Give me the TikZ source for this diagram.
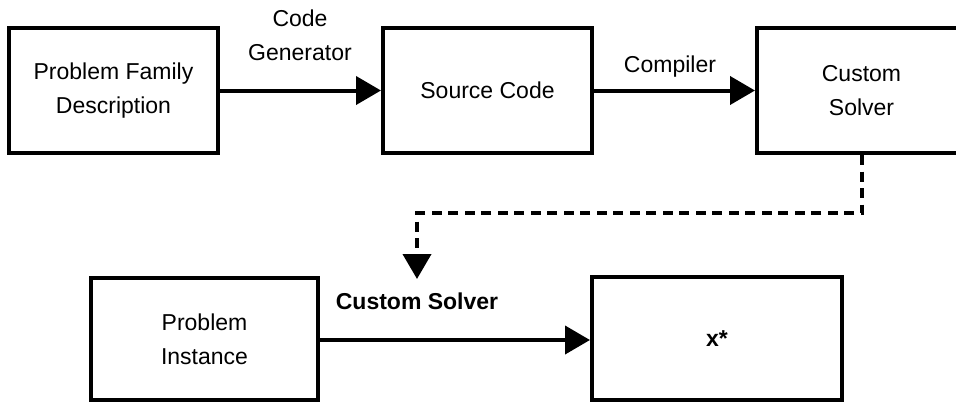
\documentclass[tikz,border=0pt]{standalone}
\usepackage{fontspec}
\setmainfont{Liberation Sans}
\usetikzlibrary{arrows.meta}
\tikzset{
  box/.style={draw, line width=4pt, inner sep=0pt, align=center, font=\fontsize{23}{34}\selectfont},
  lbl/.style={inner sep=0pt, align=center, font=\fontsize{23}{34}\selectfont},
  conn/.style={line width=4pt, -{Triangle[length=25pt,width=28pt]}},
  dashconn/.style={line width=4pt, dash pattern=on 10pt off 6.5pt, -{Triangle[length=25pt,width=28pt]}}
}
\begin{document}
\begin{tikzpicture}[x=1pt,y=-1pt]
\useasboundingbox (0,0) rectangle (956,402);
\node[box, minimum width=209pt, minimum height=125pt] (pfd) at (113.5,90.5) {Problem Family\\Description};
\node[box, minimum width=209pt, minimum height=125pt] (src) at (487.5,90.5) {Source Code};
\node[box, minimum width=209pt, minimum height=125pt] (cs) at (861.5,90.5) {Custom\\Solver};
\node[box, minimum width=227pt, minimum height=122pt] (pi) at (204.5,339) {Problem\\Instance};
\node[box, minimum width=250pt, minimum height=123pt] (xs) at (717,338.5) {\textbf{x*}};
\node[lbl] (lcg) at (300,35) {Code\\Generator};
\node[lbl] (lco) at (670,67) {Compiler};
\node[lbl, font=\fontsize{23}{34}\selectfont\bfseries] (lcs) at (417,301) {Custom Solver};
\coordinate (bend1) at (862,213);
\coordinate (bend2) at (417,213);
\coordinate (tip) at (417,279);
\draw[conn] (pfd.east) -- (src.west);
\draw[conn] (src.east) -- (cs.west);
\draw[conn] (pi.east |- 0,340) -- (xs.west |- 0,340);
\draw[dashconn] (cs.south -| bend1) -- (bend1) -- (bend2) -- (tip);
\end{tikzpicture}
\end{document}
